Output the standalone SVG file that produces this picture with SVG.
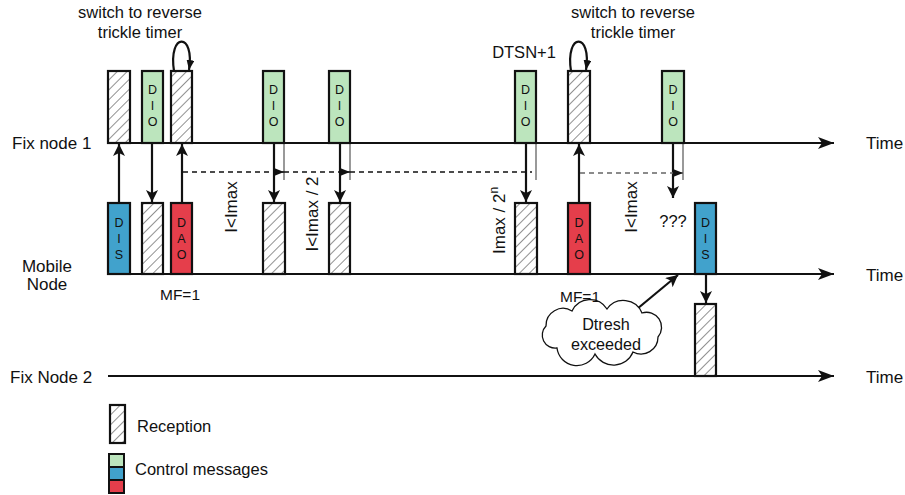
<svg xmlns="http://www.w3.org/2000/svg" width="905" height="495" viewBox="0 0 905 495">
<style>
text{font-family:"Liberation Sans",Arial,sans-serif;fill:#111}
.lbl{font-size:16.5px}
.big{font-size:17px}
.mf{font-size:15.5px}
.cl{font-size:16.2px}
.let{font-size:12.5px;text-anchor:middle}
.box{stroke:#111;stroke-width:2.2}
.hat{fill:url(#hatch);stroke:#111;stroke-width:2.2}
.dio{fill:#bce5bd}
.dis{fill:#41a2cc}
.dao{fill:#e53e4b}
.axis{stroke:#111;stroke-width:2.2;fill:none}
.arr{stroke:#111;stroke-width:2.2;fill:none}
.thin{stroke:#777;stroke-width:1.5;fill:none}
</style>
<defs>
<pattern id="hatch" patternUnits="userSpaceOnUse" width="7" height="7" patternTransform="rotate(45)">
<rect width="7" height="7" fill="#fff"/>
<line x1="0" y1="0" x2="0" y2="7" stroke="#555" stroke-width="1.3"/>
</pattern>
<marker id="ah" markerUnits="userSpaceOnUse" viewBox="0 0 12 12" refX="12" refY="6" markerWidth="12" markerHeight="12" orient="auto">
<path d="M0,0 L12,6 L0,12 L3,6 z" fill="#111"/>
</marker>
<marker id="ahBig" markerUnits="userSpaceOnUse" viewBox="0 0 16 12" refX="16" refY="6" markerWidth="16" markerHeight="12" orient="auto">
<path d="M0,0 L16,6 L0,12 L4,6 z" fill="#111"/>
</marker>
<marker id="ahS" markerUnits="userSpaceOnUse" viewBox="0 0 10 8" refX="10" refY="4" markerWidth="10" markerHeight="8" orient="auto">
<path d="M0,0 L10,4 L0,8 z" fill="#111"/>
</marker>
</defs>

<g id="timelines">
<line class="axis" x1="108" y1="143" x2="834" y2="143" marker-end="url(#ahBig)"/>
<line class="axis" x1="108" y1="274" x2="834" y2="274" marker-end="url(#ahBig)"/>
<line class="axis" x1="108" y1="376" x2="834" y2="376" marker-end="url(#ahBig)"/>
<text class="big" x="12" y="149">Fix node 1</text>
<text class="big" x="47" y="272" text-anchor="middle">Mobile</text>
<text class="big" x="47" y="290" text-anchor="middle">Node</text>
<text class="big" x="10" y="383">Fix Node 2</text>
<text class="big" x="866" y="149">Time</text>
<text class="big" x="866" y="281">Time</text>
<text class="big" x="866" y="383">Time</text>
</g>

<g id="connectors">
<line class="arr" x1="119" y1="203" x2="119" y2="144" marker-end="url(#ah)"/>
<line class="arr" x1="152" y1="143" x2="152" y2="202" marker-end="url(#ah)"/>
<line class="arr" x1="182" y1="203" x2="182" y2="144" marker-end="url(#ah)"/>
<line class="arr" x1="274" y1="143" x2="274" y2="202" marker-end="url(#ah)"/>
<line class="arr" x1="340" y1="143" x2="340" y2="202" marker-end="url(#ah)"/>
<line class="arr" x1="526" y1="143" x2="526" y2="202" marker-end="url(#ah)"/>
<line class="arr" x1="579" y1="203" x2="579" y2="144" marker-end="url(#ah)"/>
<line class="arr" x1="673" y1="143" x2="673" y2="198" marker-end="url(#ah)"/>
<line class="arr" x1="706" y1="274" x2="706" y2="303" marker-end="url(#ah)"/>
<line class="thin" x1="284" y1="143" x2="284" y2="180"/>
<line class="thin" x1="350" y1="143" x2="350" y2="180"/>
<line class="thin" x1="536" y1="143" x2="536" y2="180"/>
<line class="thin" x1="683" y1="143" x2="683" y2="180"/>
<line x1="183" y1="172" x2="284" y2="172" stroke="#111" stroke-width="1.3" stroke-dasharray="5,4" marker-end="url(#ahS)"/>
<line x1="284" y1="172" x2="350" y2="172" stroke="#111" stroke-width="1.3" stroke-dasharray="5,4" marker-end="url(#ahS)"/>
<line x1="350" y1="172" x2="532" y2="172" stroke="#111" stroke-width="1.3" stroke-dasharray="5,4"/>
<line x1="580" y1="173" x2="683" y2="173" stroke="#666" stroke-width="1.5" stroke-dasharray="5,4" marker-end="url(#ahS)"/>
<path class="arr" d="M174,71 C168,32 195,32 189,70" stroke-width="1.5" marker-end="url(#ahS)"/>
<path class="arr" d="M571,71 C565,32 592,32 586,70" stroke-width="1.5" marker-end="url(#ahS)"/>
<line class="arr" x1="637" y1="309" x2="678" y2="275" marker-end="url(#ah)"/>
</g>

<g id="fix1-rx1"><rect class="hat" x="108" y="71" width="22" height="72"/></g>
<g id="fix1-dio1"><rect class="box dio" x="142" y="71" width="21" height="72"/>
<text class="let" x="152.5" y="94">D</text><text class="let" x="152.5" y="110">I</text><text class="let" x="152.5" y="126">O</text></g>
<g id="fix1-rx2"><rect class="hat" x="171" y="71" width="21" height="72"/></g>
<g id="fix1-dio2"><rect class="box dio" x="263" y="71" width="21" height="72"/>
<text class="let" x="273.5" y="94">D</text><text class="let" x="273.5" y="110">I</text><text class="let" x="273.5" y="126">O</text></g>
<g id="fix1-dio3"><rect class="box dio" x="329" y="71" width="21" height="72"/>
<text class="let" x="339.5" y="94">D</text><text class="let" x="339.5" y="110">I</text><text class="let" x="339.5" y="126">O</text></g>
<g id="fix1-dio4"><rect class="box dio" x="515" y="71" width="21" height="72"/>
<text class="let" x="525.5" y="94">D</text><text class="let" x="525.5" y="110">I</text><text class="let" x="525.5" y="126">O</text></g>
<g id="fix1-rx3"><rect class="hat" x="568" y="71" width="22" height="72"/></g>
<g id="fix1-dio5"><rect class="box dio" x="662" y="71" width="22" height="72"/>
<text class="let" x="673" y="94">D</text><text class="let" x="673" y="110">I</text><text class="let" x="673" y="126">O</text></g>

<g id="mob-dis1"><rect class="box dis" x="108" y="203" width="22" height="71"/>
<text class="let" x="119" y="227">D</text><text class="let" x="119" y="243">I</text><text class="let" x="119" y="259">S</text></g>
<g id="mob-rx1"><rect class="hat" x="142" y="203" width="21" height="71"/></g>
<g id="mob-dao1"><rect class="box dao" x="171" y="203" width="21" height="71"/>
<text class="let" x="181.5" y="227">D</text><text class="let" x="181.5" y="243">A</text><text class="let" x="181.5" y="259">O</text></g>
<g id="mob-rx2"><rect class="hat" x="263" y="203" width="22" height="71"/></g>
<g id="mob-rx3"><rect class="hat" x="329" y="203" width="21" height="71"/></g>
<g id="mob-rx4"><rect class="hat" x="515" y="203" width="22" height="71"/></g>
<g id="mob-dao2"><rect class="box dao" x="568" y="203" width="22" height="71"/>
<text class="let" x="579" y="227">D</text><text class="let" x="579" y="243">A</text><text class="let" x="579" y="259">O</text></g>
<g id="mob-dis2"><rect class="box dis" x="695" y="203" width="21" height="71"/>
<text class="let" x="705.5" y="227">D</text><text class="let" x="705.5" y="243">I</text><text class="let" x="705.5" y="259">S</text></g>

<g id="fix2-rx1"><rect class="hat" x="695" y="304" width="21" height="72"/></g>

<g id="cloud">
<path d="M546,326 A17,17 0 0 1 572,311 A20,20 0 0 1 607,309 A20,20 0 0 1 642,313 A15,15 0 0 1 658,337 A17,17 0 0 1 633,352 A21,21 0 0 1 595,354 A20,20 0 0 1 557,348 A13,13 0 0 1 546,326 Z" fill="#fff" stroke="#111" stroke-width="1.3"/>
<text class="cl" x="606" y="330" text-anchor="middle">Dtresh</text>
<text class="cl" x="606" y="350" text-anchor="middle">exceeded</text>
</g>

<g id="labels">
<text class="lbl" x="140" y="18" text-anchor="middle">switch to reverse</text>
<text class="lbl" x="140" y="38" text-anchor="middle">trickle timer</text>
<text class="lbl" x="633" y="18" text-anchor="middle">switch to reverse</text>
<text class="lbl" x="633" y="38" text-anchor="middle">trickle timer</text>
<text class="lbl" x="524" y="58" text-anchor="middle">DTSN+1</text>
<text class="mf" x="180" y="300" text-anchor="middle">MF=1</text>
<text class="mf" x="580" y="302" text-anchor="middle">MF=1</text>
<text class="lbl" x="673" y="227" text-anchor="middle">???</text>
<text class="big" transform="translate(237,207) rotate(-90)" text-anchor="middle">I&lt;Imax</text>
<text class="big" transform="translate(318,214) rotate(-90)" text-anchor="middle">I&lt;Imax / 2</text>
<text class="big" transform="translate(505,254) rotate(-90)">Imax / 2<tspan font-size="12" dy="-7">n</tspan></text>
<text class="big" transform="translate(637,207) rotate(-90)" text-anchor="middle">I&lt;Imax</text>
</g>

<g id="legend">
<rect class="hat" x="110" y="405" width="15" height="38"/>
<text class="lbl" x="137" y="432">Reception</text>
<rect x="108" y="453" width="17" height="41" fill="#111"/>
<rect x="110" y="455" width="13" height="11" fill="#bce5bd"/>
<rect x="110" y="468" width="13" height="11" fill="#41a2cc"/>
<rect x="110" y="481" width="13" height="11" fill="#e53e4b"/>
<text class="lbl" x="135" y="475">Control messages</text>
</g>
</svg>
